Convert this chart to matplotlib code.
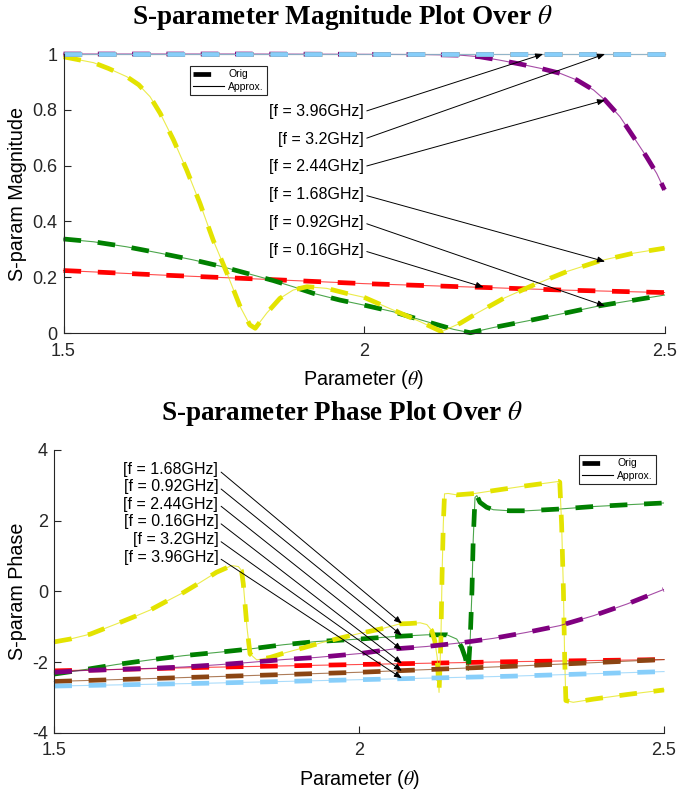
import matplotlib
matplotlib.use("Agg")
import matplotlib.pyplot as plt
from matplotlib.lines import Line2D

plt.rcParams['font.family'] = ['Liberation Sans', 'DejaVu Sans']
plt.rcParams['mathtext.fontset'] = 'stix'
plt.rcParams['lines.scale_dashes'] = False

# ---------------- data ----------------
freq_labels = ['0.16GHz', '0.92GHz', '1.68GHz', '2.44GHz', '3.2GHz', '3.96GHz']
colors = ['#ff0000', '#008000', '#e3e300', '#800080', '#8b4513', '#87cefa']

# |S| versus theta
mag_x_016 = [1.50, 1.66, 1.83, 2.00, 2.19, 2.33, 2.50]
mag_y_016 = [0.224, 0.208, 0.193, 0.177, 0.164, 0.154, 0.145]

mag_x_092 = [1.50, 1.55, 1.605, 1.661, 1.716, 1.760, 1.805, 1.849, 1.882, 1.916,
             1.960, 2.00, 2.049, 2.104, 2.149, 2.177, 2.216, 2.271, 2.327, 2.393, 2.50]
mag_y_092 = [0.337, 0.327, 0.309, 0.286, 0.262, 0.240, 0.214, 0.188, 0.166, 0.142,
             0.118, 0.100, 0.076, 0.041, 0.013, 0.001, 0.020, 0.043, 0.068, 0.098, 0.136]

mag_x_168 = [1.50, 1.55, 1.575, 1.605, 1.625, 1.644, 1.661, 1.683, 1.705, 1.727,
             1.749, 1.772, 1.794, 1.810, 1.819, 1.838, 1.860, 1.882, 1.905, 1.938,
             1.971, 2.000, 2.049, 2.093, 2.129, 2.160, 2.188, 2.232, 2.282, 2.337,
             2.393, 2.448, 2.500]
mag_y_168 = [0.990, 0.969, 0.948, 0.919, 0.890, 0.847, 0.787, 0.692, 0.584, 0.465,
             0.333, 0.214, 0.094, 0.029, 0.017, 0.071, 0.124, 0.154, 0.166, 0.160,
             0.142, 0.128, 0.082, 0.041, 0.005, 0.035, 0.071, 0.124, 0.172, 0.220,
             0.259, 0.286, 0.304]

mag_x_244 = [1.50, 1.80, 2.00, 2.10, 2.16, 2.193, 2.226, 2.260, 2.293, 2.326,
             2.354, 2.382, 2.401, 2.426, 2.448, 2.470, 2.487, 2.500]
mag_y_244 = [1.000, 1.000, 0.999, 0.998, 0.996, 0.990, 0.978, 0.964, 0.949, 0.931,
             0.907, 0.871, 0.835, 0.775, 0.704, 0.632, 0.572, 0.513]

mag_x_320 = [1.50, 2.50]
mag_y_320 = [1.0, 1.0]

mag_x_396 = [1.50, 2.50]
mag_y_396 = [1.0, 1.0]

# angle(S) versus theta
ph_x_016 = [1.50, 1.75, 2.00, 2.25, 2.50]
ph_y_016 = [-2.25, -2.15, -2.07, -1.99, -1.93]

ph_x_092 = [1.500, 1.548, 1.602, 1.657, 1.712, 1.766, 1.821, 1.876, 1.930, 2.001,
            2.056, 2.111, 2.144, 2.160, 2.168, 2.174, 2.179, 2.182, 2.185, 2.187,
            2.190, 2.193, 2.198, 2.209, 2.220, 2.247, 2.275, 2.329, 2.384, 2.439, 2.499]
ph_y_092 = [-2.34, -2.22, -2.07, -1.94, -1.82, -1.73, -1.63, -1.51, -1.42, -1.35,
            -1.28, -1.23, -1.23, -1.35, -1.58, -1.87, -2.24, -1.40, 0.02, 1.44,
            2.66, 2.71, 2.52, 2.38, 2.31, 2.28, 2.28, 2.33, 2.40, 2.45, 2.50]

ph_x_168 = [1.500, 1.526, 1.559, 1.602, 1.635, 1.657, 1.684, 1.712, 1.739, 1.766,
            1.791, 1.802, 1.807, 1.810, 1.816, 1.821, 1.832, 1.854, 1.876, 1.908,
            1.941, 1.974, 2.001, 2.034, 2.067, 2.083, 2.100, 2.111, 2.119, 2.124,
            2.128, 2.131, 2.134, 2.136, 2.138, 2.140, 2.146, 2.160, 2.190, 2.220,
            2.275, 2.327, 2.329, 2.332, 2.335, 2.337, 2.339, 2.351, 2.384, 2.439, 2.500]
ph_y_168 = [-1.43, -1.35, -1.21, -0.92, -0.69, -0.53, -0.28, -0.03, 0.25, 0.54,
            0.73, 0.70, 0.59, 0.21, -1.02, -1.77, -1.94, -1.87, -1.75, -1.60,
            -1.44, -1.30, -1.19, -1.07, -0.92, -0.91, -0.89, -0.94, -1.11, -1.40,
            -1.87, -2.86, -1.40, 0.49, 1.91, 2.76, 2.77, 2.73, 2.77, 2.85,
            2.99, 3.11, 3.09, 1.91, 0.02, -1.87, -3.09, -3.14, -3.05, -2.92, -2.79]

ph_x_244 = [1.500, 1.548, 1.602, 1.657, 1.712, 1.766, 1.821, 1.876, 1.930, 2.001,
            2.056, 2.111, 2.165, 2.220, 2.275, 2.329, 2.384, 2.439, 2.499]
ph_y_244 = [-2.29, -2.24, -2.21, -2.18, -2.14, -2.08, -2.01, -1.93, -1.87, -1.76,
            -1.63, -1.56, -1.46, -1.33, -1.16, -0.97, -0.69, -0.36, 0.05]

ph_x_320 = [1.50, 1.75, 2.00, 2.25, 2.50]
ph_y_320 = [-2.55, -2.42, -2.29, -2.12, -1.93]

ph_x_396 = [1.50, 1.75, 2.00, 2.25, 2.50]
ph_y_396 = [-2.68, -2.60, -2.50, -2.40, -2.27]

mag_series = [(mag_x_016, mag_y_016), (mag_x_092, mag_y_092), (mag_x_168, mag_y_168),
              (mag_x_244, mag_y_244), (mag_x_320, mag_y_320), (mag_x_396, mag_y_396)]
ph_series = [(ph_x_016, ph_y_016), (ph_x_092, ph_y_092), (ph_x_168, ph_y_168),
             (ph_x_244, ph_y_244), (ph_x_320, ph_y_320), (ph_x_396, ph_y_396)]

# text-arrow callouts: label, text anchor (right edge), arrow tip
mag_notes = [('3.96GHz', (2.0, 0.793), (2.298, 1.000)),
             ('3.2GHz', (2.0, 0.695), (2.401, 1.000)),
             ('2.44GHz', (2.0, 0.596), (2.401, 0.835)),
             ('1.68GHz', (2.0, 0.495), (2.401, 0.256)),
             ('0.92GHz', (2.0, 0.395), (2.401, 0.097)),
             ('0.16GHz', (2.0, 0.295), (2.199, 0.164))]
ph_notes = [('1.68GHz', (1.769, 3.44), (2.070, -0.91)),
            ('0.92GHz', (1.769, 2.96), (2.070, -1.25)),
            ('2.44GHz', (1.769, 2.47), (2.070, -1.66)),
            ('0.16GHz', (1.769, 1.97), (2.070, -2.04)),
            ('3.2GHz', (1.769, 1.46), (2.070, -2.25)),
            ('3.96GHz', (1.769, 0.96), (2.070, -2.46))]

# ---------------- drawing ----------------
DASH = (0, (12.7, 12.0))
AX_COLOR = '#262626'

fig = plt.figure(figsize=(6.78, 7.91), dpi=100)
ax1 = fig.add_axes([0.0937, 0.579, 0.8864, 0.3527])
ax2 = fig.add_axes([0.0801, 0.0737, 0.8993, 0.3574])


def draw_series(ax, series):
    for (x, y), c in zip(series, colors):
        ax.plot(x, y, color=c, lw=3.4, ls=DASH, dash_capstyle='butt', clip_on=False)
        ax.plot(x, y, color=c, lw=0.8, alpha=0.7, clip_on=False)


def style_axes(ax):
    for side in ('top', 'right'):
        ax.spines[side].set_visible(False)
    for side in ('left', 'bottom'):
        ax.spines[side].set_color(AX_COLOR)
        ax.spines[side].set_linewidth(0.8)
    ax.tick_params(direction='in', length=5, width=0.8, colors=AX_COLOR,
                   labelsize=13, top=False, right=False)
    ax.tick_params(axis='x', pad=7)
    ax.tick_params(axis='y', pad=4.5)
    ax.set_xlim(1.5, 2.5)
    ax.set_xticks([1.5, 2, 2.5])
    ax.set_xticklabels(['1.5', '2', '2.5'])


def add_notes(ax, notes):
    for lab, txt, tip in notes:
        ax.annotate('[f = ' + lab + ']', xy=tip, xytext=txt, ha='right', va='center',
                    fontsize=11.5, color='black',
                    arrowprops=dict(arrowstyle='-|>,head_length=0.45,head_width=0.18',
                                    color='black', lw=0.7, shrinkA=0, shrinkB=0,
                                    relpos=(1, 0.5), mutation_scale=10))


def add_legend(ax, loc, anchor):
    h1 = Line2D([], [], color='black', lw=3.4, ls=DASH, dash_capstyle='butt')
    h2 = Line2D([], [], color='black', lw=0.8)
    leg = ax.legend([h1, h2], ['Orig', 'Approx.'], loc=loc, bbox_to_anchor=anchor,
                    borderaxespad=0, fontsize=7.5, frameon=True, fancybox=False,
                    edgecolor=AX_COLOR, framealpha=1, handlelength=3.0,
                    handletextpad=0.4, borderpad=0.3, labelspacing=0.25)
    leg.get_frame().set_linewidth(0.8)


# magnitude panel
draw_series(ax1, mag_series)
style_axes(ax1)
ax1.set_ylim(0, 1)
ax1.set_yticks([0, 0.2, 0.4, 0.6, 0.8, 1])
ax1.set_yticklabels(['0', '0.2', '0.4', '0.6', '0.8', '1'])
ax1.set_ylabel('S-param Magnitude', fontsize=14.2, va='center')
ax1.yaxis.set_label_coords((17 - 63.5) / 601, 0.5)
ax1.set_xlabel(r'Parameter ($\theta$)', fontsize=14.2, va='center')
ax1.xaxis.set_label_coords(0.5, -0.167)
add_notes(ax1, mag_notes)
add_legend(ax1, 'upper left', (0.21, 0.957))

# phase panel
draw_series(ax2, ph_series)
style_axes(ax2)
ax2.set_ylim(-4, 4)
ax2.set_yticks([-4, -2, 0, 2, 4])
ax2.set_yticklabels(['-4', '-2', '0', '2', '4'])
ax2.set_ylabel('S-param Phase', fontsize=14.2, va='center')
ax2.yaxis.set_label_coords((17 - 54.3) / 609.7, 0.5)
ax2.set_xlabel(r'Parameter ($\theta$)', fontsize=14.2, va='center')
ax2.xaxis.set_label_coords(0.5, -0.165)
add_notes(ax2, ph_notes)
add_legend(ax2, 'upper right', (0.987, 0.982))

title_kw = dict(ha='center', va='center', fontsize=19.5, fontweight='bold',
                family=['Liberation Serif', 'DejaVu Serif'])
fig.text(342 / 678, 1 - 18 / 791, r'S-parameter Magnitude Plot Over $\theta$', **title_kw)
fig.text(342 / 678, 1 - 413 / 791, r'S-parameter Phase Plot Over $\theta$', **title_kw)

fig.savefig('out.png', dpi=100)
